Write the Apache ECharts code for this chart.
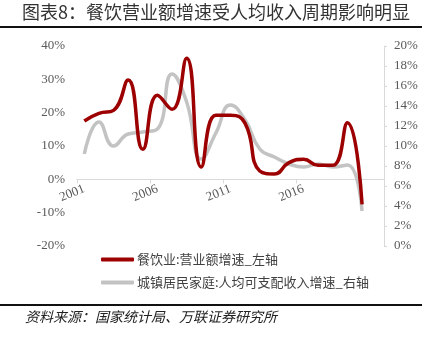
<!DOCTYPE html>
<html>
<head>
<meta charset="utf-8">
<script src="https://cdn.jsdelivr.net/npm/echarts@6/dist/echarts.min.js"></script>
<style>
html,body{margin:0;padding:0;background:#fff;}
#c{width:432px;height:340px;}
</style>
</head>
<body>
<div id="c"></div>
<script>
var years = ['2001','2002','2003','2004','2005','2006','2007','2008','2009','2010','2011','2012','2013','2014','2015','2016','2017','2018','2019','2020','2021'];
var restaurantGrowth = [17.5, 19.8, 20.7, 29.8, 9.0, 25.2, 21.0, 36.3, 3.7, 19.2, 19.2, 16.8, 2.5, 1.6, 5.0, 6.0, 4.2, 4.2, 17.0, -7.5];
var incomeGrowth = [9.2, 12.4, 10.0, 11.2, 11.4, 11.7, 17.2, 14.4, 8.7, 11.3, 14.1, 12.6, 9.7, 8.9, 8.2, 7.9, 8.2, 7.9, 8.1, 3.5];
var leftTicks = {min: -20, max: 40, interval: 10};
var rightTicks = {min: 0, max: 20, interval: 2};
var seriesNames = ['餐饮业:营业额增速_左轴', '城镇居民家庭:人均可支配收入增速_右轴'];
var titleText = '图表8：餐饮营业额增速受人均收入周期影响明显';
var sourceText = '资料来源：国家统计局、万联证券研究所';

var chart = echarts.init(document.getElementById('c'), null, {renderer: 'canvas'});
var serif = '"Liberation Serif", "DejaVu Serif", serif';
var cjk = '"Noto Sans CJK SC", sans-serif';
var gridTop = 46, gridBottom = 94, gridHeight = 340 - gridTop - gridBottom;
var zeroOffset = -gridHeight * (0 - leftTicks.min) / (leftTicks.max - leftTicks.min);
var option = {
  animation: false,
  backgroundColor: '#fff',
  grid: {left: 77, right: 48, top: gridTop, bottom: gridBottom, containLabel: false},
  graphic: [
    {type: 'text', left: 22, top: 3, style: {text: titleText, font: '18px ' + cjk, fill: '#333'}},
    {type: 'rect', left: 0, top: 26, shape: {width: 422, height: 2}, style: {fill: '#111'}},
    {type: 'rect', left: 0, top: 304, shape: {width: 422, height: 2}, style: {fill: '#111'}},
    {type: 'text', left: 25, top: 310, style: {text: sourceText, font: 'italic 14px ' + cjk, fill: '#222'}}
  ],
  legend: {
    orient: 'vertical',
    left: 96,
    top: 248,
    itemWidth: 33,
    itemHeight: 4,
    itemGap: 10,
    icon: 'roundRect',
    textStyle: {fontFamily: cjk, fontSize: 13, color: '#404040', padding: [0, 0, 0, -2]},
    data: seriesNames
  },
  xAxis: {
    type: 'category',
    data: years,
    boundaryGap: true,
    offset: zeroOffset,
    axisLine: {show: true, onZero: false, lineStyle: {color: '#d9d9d9', width: 1}},
    axisTick: {show: true, length: 4, lineStyle: {color: '#d9d9d9'}},
    axisLabel: {
      interval: function (i) { return i % 5 === 0 && i < 20; },
      rotate: 22,
      margin: 9,
      fontFamily: serif,
      fontSize: 13,
      color: '#595959'
    },
    splitLine: {show: false}
  },
  yAxis: [
    {
      type: 'value',
      min: leftTicks.min, max: leftTicks.max, interval: leftTicks.interval,
      axisLine: {show: false},
      axisTick: {show: false},
      splitLine: {show: false},
      axisLabel: {formatter: '{value}%', fontFamily: serif, fontSize: 13, color: '#595959', margin: 12}
    },
    {
      type: 'value',
      position: 'right',
      min: rightTicks.min, max: rightTicks.max, interval: rightTicks.interval,
      axisLine: {show: true, lineStyle: {color: '#d9d9d9'}},
      axisTick: {show: true, length: 3, inside: false, lineStyle: {color: '#d9d9d9'}},
      splitLine: {show: false},
      axisLabel: {formatter: '{value}%', fontFamily: serif, fontSize: 13, color: '#595959', margin: 10}
    }
  ],
  series: [
    {
      name: seriesNames[0],
      type: 'line',
      yAxisIndex: 0,
      data: restaurantGrowth,
      smooth: 0.5,
      showSymbol: false,
      symbol: 'none',
      lineStyle: {color: '#9c0000', width: 3.5},
      itemStyle: {color: '#9c0000'},
      z: 3
    },
    {
      name: seriesNames[1],
      type: 'line',
      yAxisIndex: 1,
      data: incomeGrowth,
      smooth: 0.5,
      showSymbol: false,
      symbol: 'none',
      lineStyle: {color: '#c3c3c3', width: 3.5},
      itemStyle: {color: '#c3c3c3'},
      z: 2
    }
  ]
};
chart.setOption(option);
</script>
</body>
</html>
